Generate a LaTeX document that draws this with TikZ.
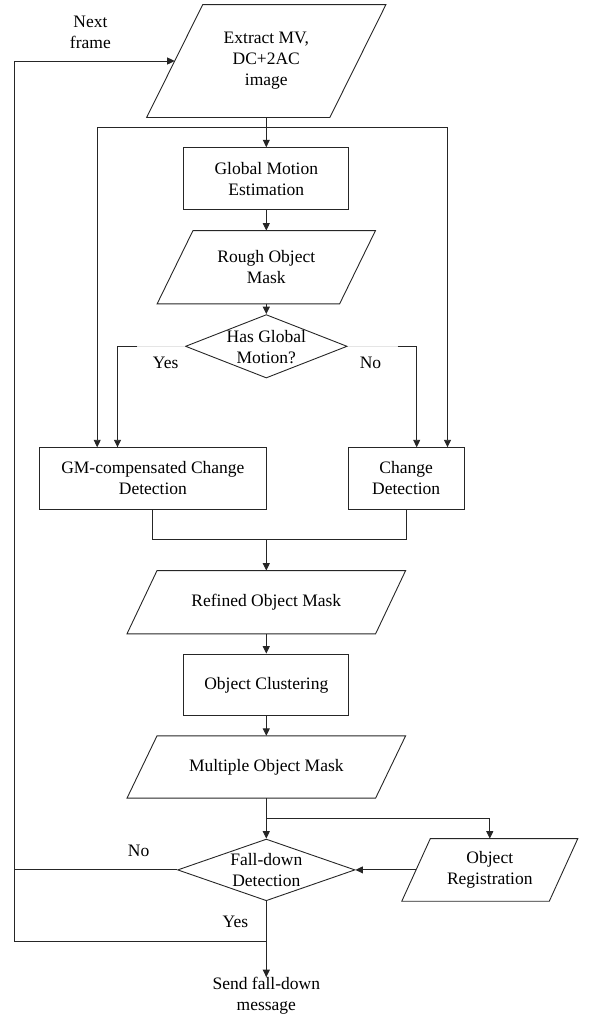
\documentclass[tikz,border=0pt]{standalone}
\usepackage{fontspec}
\setmainfont{Liberation Serif}
\usetikzlibrary{shapes.geometric,arrows.meta,calc}
\newcommand{\drawpara}[2]{%
  \draw ($(#1.south west)+(-#2,0)$) -- ($(#1.north west)+(#2,0)$) -- ($(#1.north east)+(#2,0)$) -- ($(#1.south east)+(-#2,0)$) -- cycle;}
\begin{document}
\begin{tikzpicture}[x=1pt,y=-1pt,
  line width=0.9pt, draw=black!85,
  every node/.style={font=\fontsize{17.5}{21}\selectfont, align=center, inner sep=0pt},
  box/.style={draw, rectangle, minimum height=62pt},
  dia/.style={draw, diamond, inner sep=0pt},
  arr/.style={-{Triangle[length=7.5pt,width=7pt]}},
  faint/.style={draw=black!10}
]
\useasboundingbox (0,0) rectangle (589,1018);

% nodes
\node[minimum width=182.3pt, minimum height=112pt] (ex) at (266.3,61) {Extract MV,\\DC+2AC\\image};
\drawpara{ex}{28.05}
\node[box, minimum width=165pt] (gme) at (266.3,178.7) {Global Motion\\Estimation};
\node[minimum width=181.6pt, minimum height=72.3pt] (rm) at (266.3,267.2) {Rough Object\\Mask};
\drawpara{rm}{17.9}
\node[dia, minimum width=161.7pt, minimum height=63.4pt] (hgm) at (266.3,346.3) {};
\node (hgmt) at (266.3,346.6) {Has Global\\Motion?};
\node[box, minimum width=226.8pt, minimum height=61.3pt] (gmc) at (152.9,478.4) {GM-compensated Change\\Detection};
\node[box, minimum width=115.6pt, minimum height=61.3pt] (cd) at (406.2,478.4) {Change\\Detection};
\node[minimum width=247.7pt, minimum height=62.3pt] (rf) at (266.3,602.2) {Refined Object Mask};
\drawpara{rf}{15}
\node[box, minimum width=165pt, minimum height=61.7pt] (oc) at (266.3,684.9) {Object Clustering};
\node[minimum width=247.7pt, minimum height=61.4pt] (mm) at (266.3,767) {Multiple Object Mask};
\drawpara{mm}{15}
\node[dia, minimum width=177.4pt, minimum height=61.7pt] (fd) at (266.3,869.9) {};
\node (fdt) at (266.3,870.3) {Fall-down\\Detection};
\node[minimum width=146.6pt, minimum height=61.7pt] (or) at (489.8,869.9) {Object\\Registration};
\drawpara{or}{14.25}
\node (send) at (266.3,996.2) {Send fall-down\\message};

% labels
\node (nf) at (90.4,32.5) {Next\\frame};
\node (y1) at (165.7,363.3) {Yes};
\node (n1) at (370.5,363.3) {No};
\node (n2) at (138.6,850.7) {No};
\node (y2) at (235.4,921.7) {Yes};

% connectors
\coordinate (wl) at (97.2,127);
\coordinate (wr) at (447.5,127);
\draw[arr] (ex.south) -- (gme.north);
\draw (wl) -- (wr);
\draw[arr] (wl) -- (wl |- gmc.north);
\draw[arr] (wr) -- (wr |- cd.north);
\draw[arr] (gme.south) -- (rm.north);
\draw[arr] (rm.south) -- (hgm.north);

\coordinate (yb) at (137.3,346.3);
\coordinate (yl) at (117.5,346.3);
\coordinate (nb) at (397.7,346.3);
\coordinate (nr) at (416.7,346.3);
\draw[faint] (hgm.west) -- (yb);
\draw[arr] (yb) -- (yl) -- (yl |- gmc.north);
\draw[faint] (hgm.east) -- (nb);
\draw[arr] (nb) -- (nr) -- (nr |- cd.north);

\coordinate (mj) at (266.3,539.5);
\draw (gmc.south) |- (mj);
\draw (cd.south) |- (mj);
\draw[arr] (mj) -- (rf.north);
\draw[arr] (rf.south) -- (oc.north);
\draw[arr] (oc.south) -- (mm.north);
\draw[arr] (mm.south) -- (fd.north);
\coordinate (bj) at (266.3,818);
\draw[arr] (bj) -| (or.north);
\draw[arr] (or.west) -- (fd.east);

\coordinate (lb) at (14.3,941.7);
\coordinate (yj) at (266.3,941.7);
\draw (fd.west) -- (lb |- fd.west);
\draw[arr] (yj) -- (lb) |- (ex.west);
\draw[arr] (fd.south) -- (send.north);
\end{tikzpicture}
\end{document}
